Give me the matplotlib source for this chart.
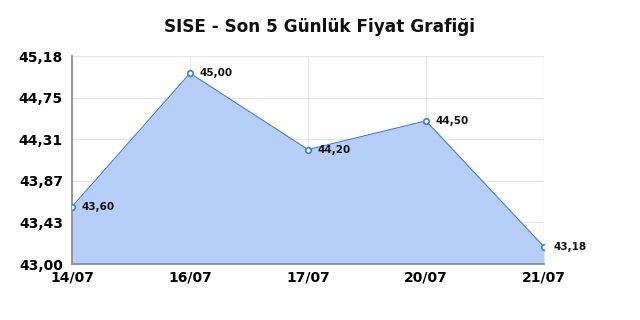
import numpy as np
import matplotlib
matplotlib.use("Agg")
import matplotlib.pyplot as plt

dates = ["14/07", "16/07", "17/07", "20/07", "21/07"]
prices = [43.60, 45.00, 44.20, 44.50, 43.18]
y_min, y_max = 43.00, 45.18
y_labels = ["43,00", "43,43", "43,87", "44,31", "44,75", "45,18"]
title = "SISE - Son 5 Günlük Fiyat Grafiği"

LINE = "#3a7bea"
FILL = "#b7cff8"


def fmt(v):
    return f"{v:.2f}".replace(".", ",")


fig = plt.figure(figsize=(6.4, 3.2), dpi=100)
ax = fig.add_axes([0.1125, 0.175, 0.7375, 0.65])

x = np.arange(len(dates))
ax.fill_between(x, y_min, prices, color=FILL, lw=0, zorder=1)
ax.plot(x, prices, color=LINE, lw=0.8, zorder=3)
ax.plot(x, prices, ls="none", marker="o", ms=4, mfc="white", mec=LINE,
        mew=1.2, zorder=4)
for xi, v in zip(x, prices):
    ax.annotate(fmt(v), (xi, v), xytext=(7, 0), textcoords="offset points",
                ha="left", va="center", fontsize=7.5, fontweight="bold",
                color="#111111", zorder=5)

ax.set_yticks(np.linspace(y_min, y_max, len(y_labels)))
ax.set_yticklabels(y_labels, fontsize=10, fontweight="bold")
ax.set_xticks(x)
ax.set_xticklabels(dates, fontsize=10, fontweight="bold")
ax.set_xlim(0, len(dates) - 1)
ax.set_ylim(y_min, y_max)
ax.tick_params(axis="y", length=0, pad=6.5)
ax.tick_params(axis="x", length=0, pad=5)

ax.grid(True, color="#e6e6e6", lw=1, zorder=0)
ax.set_axisbelow(True)
for s in ["top", "right"]:
    ax.spines[s].set_visible(False)
for s in ["left", "bottom"]:
    ax.spines[s].set_color("#888888")
    ax.spines[s].set_linewidth(1.2)

fig.suptitle(title, y=0.945, fontsize=12.2, fontweight="bold", color="#111111")

fig.savefig("out.png", dpi=100)
